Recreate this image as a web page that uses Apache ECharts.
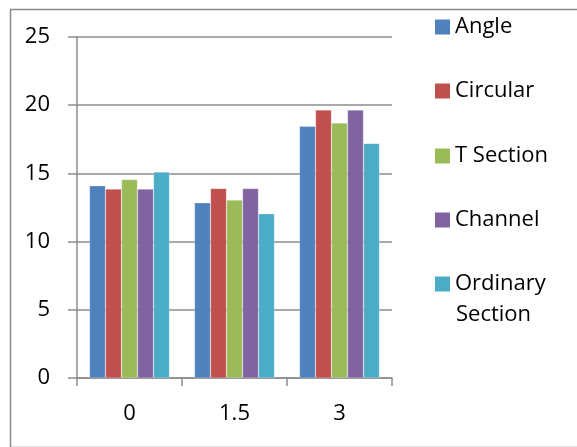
<!DOCTYPE html>
<html>
<head>
<meta charset="utf-8">
<script src="https://cdn.jsdelivr.net/npm/echarts@6/dist/echarts.min.js"></script>
<style>html,body{margin:0;padding:0;background:#fff}#c{width:577px;height:447px}</style>
</head>
<body>
<div id="c"></div>
<script>
var categories = ['0', '1.5', '3'];
var seriesNames = ['Angle', 'Circular', 'T Section', 'Channel', 'Ordinary Section'];
var angle = [14.1, 12.85, 18.45];
var circular = [13.85, 13.9, 19.65];
var tSection = [14.55, 13.05, 18.7];
var channel = [13.85, 13.9, 19.65];
var ordinary = [15.1, 12.05, 17.2];
var yTicks = [0, 5, 10, 15, 20, 25];
var colors = ['#4F81BD', '#C0504D', '#9BBB59', '#8064A2', '#4BACC6'];

var FONT = 'Open Sans';
var values = [angle, circular, tSection, channel, ordinary];
var legendTops = [16, 80, 145, 209, 273];

var chart = echarts.init(document.getElementById('c'), null, {renderer: 'canvas'});
var legends = seriesNames.map(function (n, i) {
  return {
    data: [n],
    left: 435, top: legendTops[i], padding: 0,
    icon: 'rect', itemWidth: 15, itemHeight: 15, itemGap: 6,
    selectedMode: false,
    itemStyle: {borderWidth: 0},
    formatter: function (name) { return name === 'Ordinary Section' ? 'Ordinary' : name; },
    textStyle: {fontFamily: FONT, fontSize: 22, color: '#000', lineHeight: 15}
  };
});
chart.setOption({
  animation: false,
  color: colors,
  graphic: [
    {type: 'rect', left: 8, top: 7, shape: {width: 600, height: 438}, style: {fill: 'none', stroke: '#8c8c8c', lineWidth: 1.5}, z: -1},
    {type: 'text', left: 456, top: 304, style: {text: 'Section', fontFamily: FONT, fontSize: 22, fill: '#000'}}
  ],
  legend: legends,
  grid: {left: 77, right: 185, top: 37, bottom: 69, containLabel: false},
  xAxis: {
    type: 'category', data: categories,
    axisLine: {lineStyle: {color: '#8c8c8c', width: 1.5}},
    axisTick: {show: true, length: 8, alignWithLabel: false, lineStyle: {color: '#8c8c8c', width: 1.5}},
    axisLabel: {fontFamily: FONT, fontSize: 22, color: '#000', margin: 25},
    splitLine: {show: false}
  },
  yAxis: {
    type: 'value', min: 0, max: 25, interval: 5,
    axisLine: {show: true, lineStyle: {color: '#8c8c8c', width: 1.5}},
    axisTick: {show: true, length: 9, lineStyle: {color: '#8c8c8c', width: 1.5}},
    axisLabel: {fontFamily: FONT, fontSize: 22, color: '#000', margin: 27,
      formatter: function (v) { return yTicks.indexOf(v) >= 0 ? String(v) : ''; }},
    splitLine: {show: true, lineStyle: {color: '#8c8c8c', width: 1.5}}
  },
  series: seriesNames.map(function (n, i) {
    return {
      name: n, type: 'bar', data: values[i], barWidth: 16, barGap: '0%',
      itemStyle: {color: colors[i], borderColor: 'rgba(255,255,255,0.5)', borderWidth: 0.5}
    };
  })
});
</script>
</body>
</html>
